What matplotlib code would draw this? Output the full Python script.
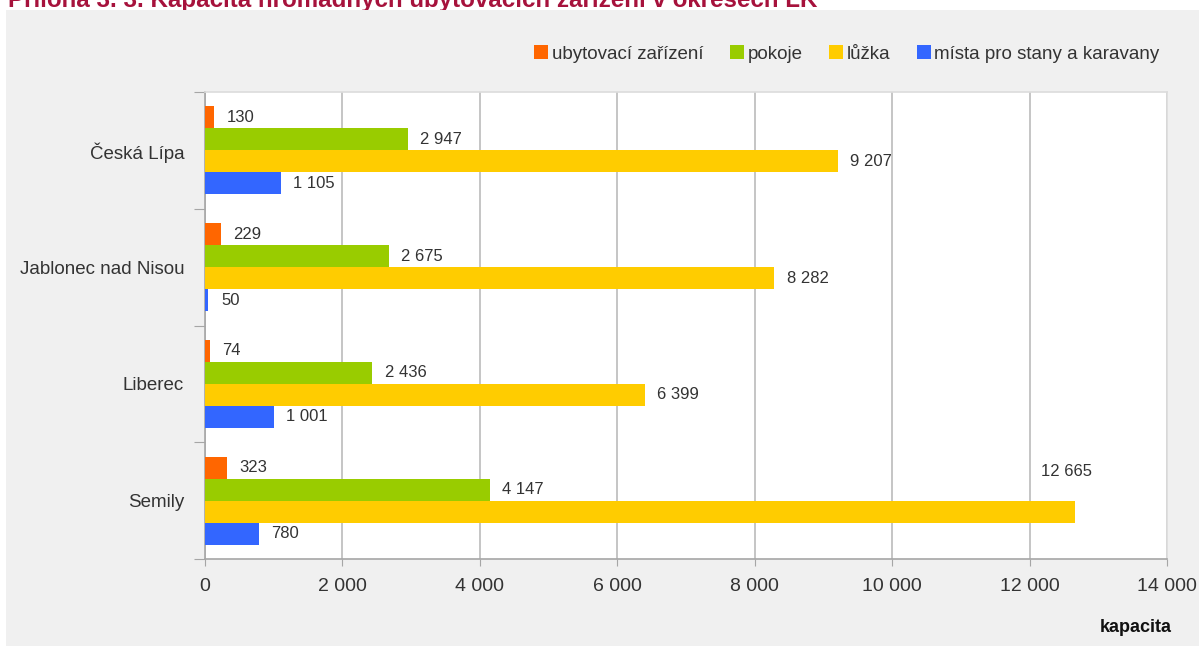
import numpy as np
import matplotlib
matplotlib.use("Agg")
import matplotlib.pyplot as plt
from matplotlib.patches import Rectangle

# data
okresy = ["Česká Lípa", "Jablonec nad Nisou", "Liberec", "Semily"]
zarizeni = [130, 229, 74, 323]
pokoje = [2947, 2675, 2436, 4147]
luzka = [9207, 8282, 6399, 12665]
mista = [1105, 50, 1001, 780]
nazvy = ["ubytovací zařízení", "pokoje", "lůžka", "místa pro stany a karavany"]
barvy = ["#ff6600", "#99cc00", "#ffcc00", "#3366ff"]
x_ticks = np.arange(0, 14001, 2000)

plt.rcParams['font.family'] = ['Liberation Sans Narrow', 'Liberation Sans', 'DejaVu Sans']
text_col = "#333333"


def cz(v):
    return f"{v:,}".replace(",", " ")


W, H = 1199, 646
fig = plt.figure(figsize=(W / 100, H / 100), dpi=100)
fig.patch.set_facecolor("white")

# gray panel + title cut off at the top edge (as in the source image)
fig.patches.append(Rectangle((6 / W, 0), 1, 1 - 10 / H, transform=fig.transFigure,
                             facecolor="#f0f0f0", edgecolor="none", zorder=-1))
fig.text(8 / W, 1 - 7 / H, "Příloha 3. 3. Kapacita hromadných ubytovacích zařízení v okresech LK",
         va="baseline", ha="left", fontsize=17.4, weight="bold", color="#a6123c", zorder=-2)

ax = fig.add_axes([205 / W, (H - 559) / H, (1167 - 205) / W, (559 - 92) / H])
ax.set_facecolor("white")

y = np.arange(len(okresy))
h = 22 / 116.75
series = [zarizeni, pokoje, luzka, mista]
for k, (vals, c, name) in enumerate(zip(series, barvy, nazvy)):
    pos = y + (k - 1.5) * h
    ax.barh(pos, vals, height=h, color=c, label=name, zorder=3)
    for p, v in zip(pos, vals):
        if v > 12000:
            ax.annotate(cz(v), xy=(v, p), xytext=(12, 29), textcoords="offset points",
                        ha="right", va="center", fontsize=12, color=text_col)
        else:
            ax.annotate(cz(v), xy=(v, p), xytext=(9, 0), textcoords="offset points",
                        ha="left", va="center", fontsize=12, color=text_col)

ax.set_xlim(0, 14000)
ax.set_ylim(3.5, -0.5)
ax.set_xticks(x_ticks)
ax.set_xticklabels([cz(t) for t in x_ticks], fontsize=14, color=text_col)
ax.tick_params(axis="x", length=5, color="#a6a6a6", pad=9)
ax.grid(axis="x", color="#c0c0c0", lw=1.3, zorder=0)

ax.set_yticks(np.arange(-0.5, len(okresy)))
ax.set_yticklabels([])
ax.tick_params(axis="y", which="major", length=8, color="#a6a6a6")
ax.set_yticks(y, minor=True)
ax.set_yticklabels(okresy, minor=True, fontsize=13.5, color=text_col)
ax.tick_params(axis="y", which="minor", length=0, pad=15)

for s in ["left", "bottom"]:
    ax.spines[s].set_color("#a6a6a6")
    ax.spines[s].set_linewidth(1.2)
for s in ["top", "right"]:
    ax.spines[s].set_color("#dcdcdc")
    ax.spines[s].set_linewidth(1.2)

fig.legend(loc="upper right", bbox_to_anchor=(1169 / W, 1 - 36 / H), ncol=4, frameon=False,
           fontsize=13.5, handlelength=0.75, handleheight=0.75, handletextpad=0.2,
           columnspacing=1.4, labelcolor=text_col, borderpad=0)

fig.text(1172 / W, 1 - 628 / H, "kapacita", ha="right", va="center", fontsize=13,
         weight="bold", color="#111111")

fig.savefig("out.png", dpi=100)
